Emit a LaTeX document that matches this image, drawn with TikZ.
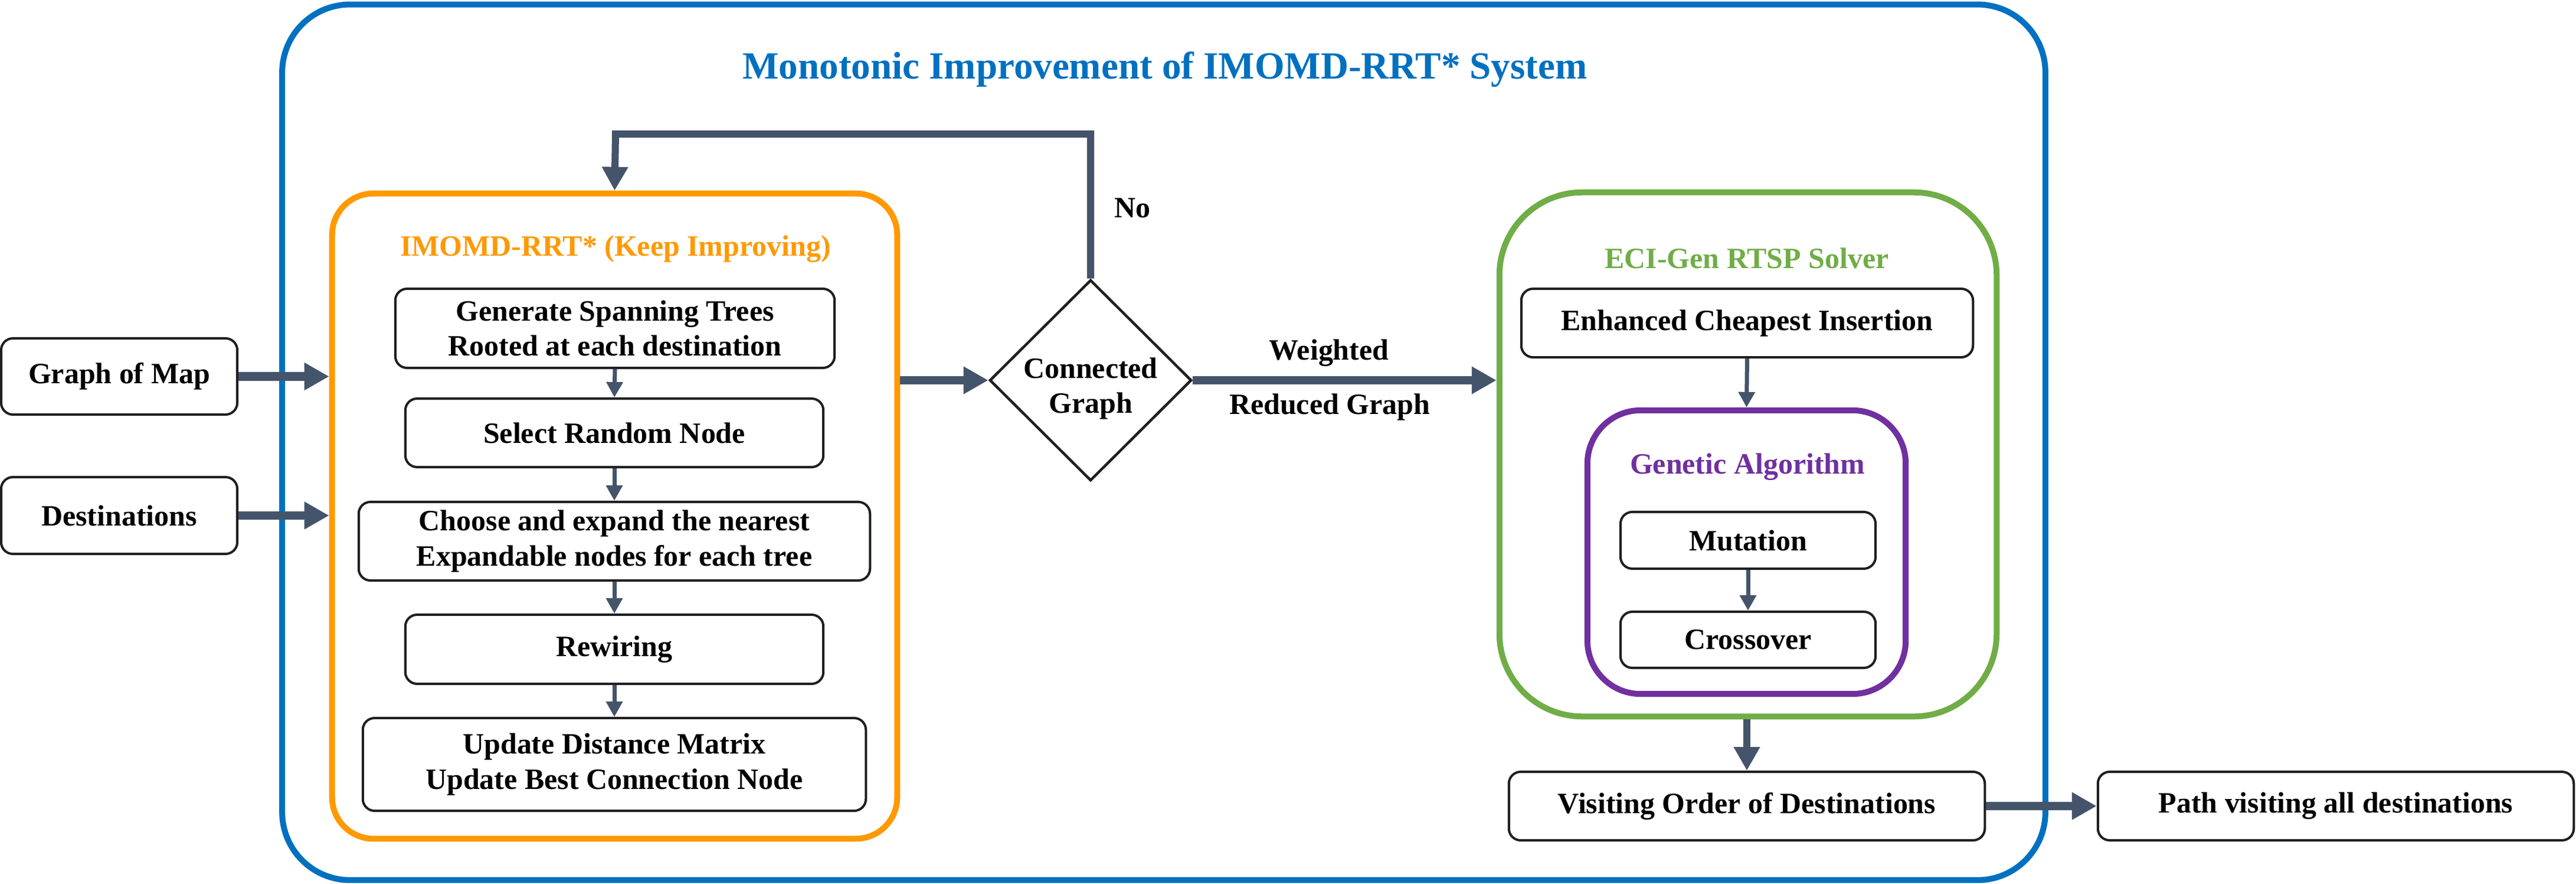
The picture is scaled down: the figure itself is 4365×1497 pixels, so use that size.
\documentclass[tikz,border=0pt]{standalone}
\usepackage{fontspec}
\setmainfont{Liberation Serif}
\usetikzlibrary{arrows.meta,shapes.geometric}
\definecolor{arrowc}{RGB}{68,84,106}
\definecolor{bluec}{RGB}{0,112,192}
\definecolor{orangec}{RGB}{255,153,0}
\definecolor{greenc}{RGB}{112,173,71}
\definecolor{purplec}{RGB}{112,48,160}
\definecolor{boxc}{RGB}{31,31,31}
\tikzset{
  txt/.style={font=\fontsize{14.2}{17}\selectfont\bfseries, align=center, inner sep=0pt},
  stepbox/.style={txt, draw=boxc, line width=0.04cm, rounded corners=0.2cm, fill=white},
  container/.style={draw, line width=0.1cm, inner sep=0pt},
  bigarrow/.style={draw=arrowc, line width=0.14cm, -{Triangle[length=0.42cm,width=0.44cm,fill=arrowc]}},
  medarrow/.style={draw=arrowc, line width=0.12cm, -{Triangle[length=0.40cm,width=0.42cm,fill=arrowc]}},
  smallarrow/.style={draw=arrowc, line width=0.07cm, -{Triangle[length=0.26cm,width=0.27cm,fill=arrowc]}},
}
\begin{document}
\begin{tikzpicture}[x=0.01cm, y=-0.01cm]
\useasboundingbox (0,0) rectangle (4365,1497);
% containers
\node[container, draw=bluec, rounded corners=1.15cm, minimum width=29.86cm, minimum height=14.82cm] (blu) at (1972,749) {};
\node[container, draw=orangec, rounded corners=0.7cm, minimum width=9.57cm, minimum height=10.92cm] (ora) at (1041.5,874) {};
\node[container, draw=greenc, rounded corners=1.4cm, minimum width=8.42cm, minimum height=8.87cm] (grn) at (2962,769.5) {};
\node[container, draw=purplec, rounded corners=0.9cm, minimum width=5.39cm, minimum height=4.80cm] (pur) at (2959.5,935) {};
% titles
\node[txt, text=bluec, font=\fontsize{18.5}{22}\selectfont\bfseries] (ttl) at (1974,118) {Monotonic Improvement of IMOMD-RRT* System};
\node[txt, text=orangec] (ottl) at (1043,422) {IMOMD-RRT* (Keep Improving)};
\node[txt, text=greenc] (gttl) at (2960,437) {ECI-Gen RTSP Solver};
\node[txt, text=purplec] (pttl) at (2961,791) {Genetic Algorithm};
% boxes
\node[stepbox, minimum width=7.44cm, minimum height=1.34cm] (gsp) at (1042,556) {Generate Spanning Trees\\Rooted at each destination};
\node[stepbox, minimum width=7.08cm, minimum height=1.16cm] (srn) at (1041,733) {Select Random Node};
\node[stepbox, minimum width=8.66cm, minimum height=1.33cm] (cen) at (1041,916.5) {Choose and expand the nearest\\Expandable nodes for each tree};
\node[stepbox, minimum width=7.08cm, minimum height=1.17cm] (rew) at (1041,1099.5) {Rewiring};
\node[stepbox, minimum width=8.52cm, minimum height=1.57cm] (upd) at (1041,1294.5) {Update Distance Matrix\\Update Best Connection Node};
\node[stepbox, minimum width=4.00cm, minimum height=1.29cm] (gom) at (202,637.5) {Graph of Map};
\node[stepbox, minimum width=4.00cm, minimum height=1.30cm] (dst) at (202,873) {Destinations};
\node[stepbox, minimum width=7.65cm, minimum height=1.16cm] (eci) at (2960.5,547) {Enhanced Cheapest Insertion};
\node[stepbox, minimum width=4.32cm, minimum height=0.96cm] (mut) at (2962,915) {Mutation};
\node[stepbox, minimum width=4.32cm, minimum height=0.95cm] (cro) at (2962,1083.5) {Crossover};
\node[stepbox, minimum width=8.06cm, minimum height=1.16cm] (vis) at (2960,1365) {Visiting Order of Destinations};
\node[stepbox, minimum width=8.06cm, minimum height=1.16cm] (pth) at (3958,1365) {Path visiting all destinations};
% diamond
\node[draw=boxc, line width=0.045cm, shape=diamond, minimum width=3.42cm, minimum height=3.40cm, inner sep=0pt] (dia) at (1848,644) {};
\node[txt] (diat) at (1848,658) {Connected\\Graph};
% labels
\node[txt] (nol) at (1919,352) {No};
\node[txt] (wl) at (2252,598) {Weighted};
\node[txt] (rl) at (2253,689) {Reduced Graph};
% feedback coordinate
\coordinate (fb) at (1043,227);
% arrows
\draw[bigarrow] (gom.east) -- (gom.east -| ora.west);
\draw[bigarrow] (dst.east) -- (dst.east -| ora.west);
\draw[bigarrow] (ora.east |- dia.west) -- (dia.west);
\draw[bigarrow] (dia.east) -- (dia.east -| grn.west);
\draw[medarrow] (dia.north) |- (fb) -- (ora.north);
\draw[smallarrow] (gsp.south) -- (srn.north);
\draw[smallarrow] (srn.south) -- (cen.north);
\draw[smallarrow] (cen.south) -- (rew.north);
\draw[smallarrow] (rew.south) -- (upd.north);
\draw[smallarrow] (eci.south) -- (pur.north);
\draw[smallarrow] (mut.south) -- (cro.north);
\draw[medarrow] (grn.south -| vis.north) -- (vis.north);
\draw[bigarrow] (vis.east) -- (pth.west);
\end{tikzpicture}
\end{document}
